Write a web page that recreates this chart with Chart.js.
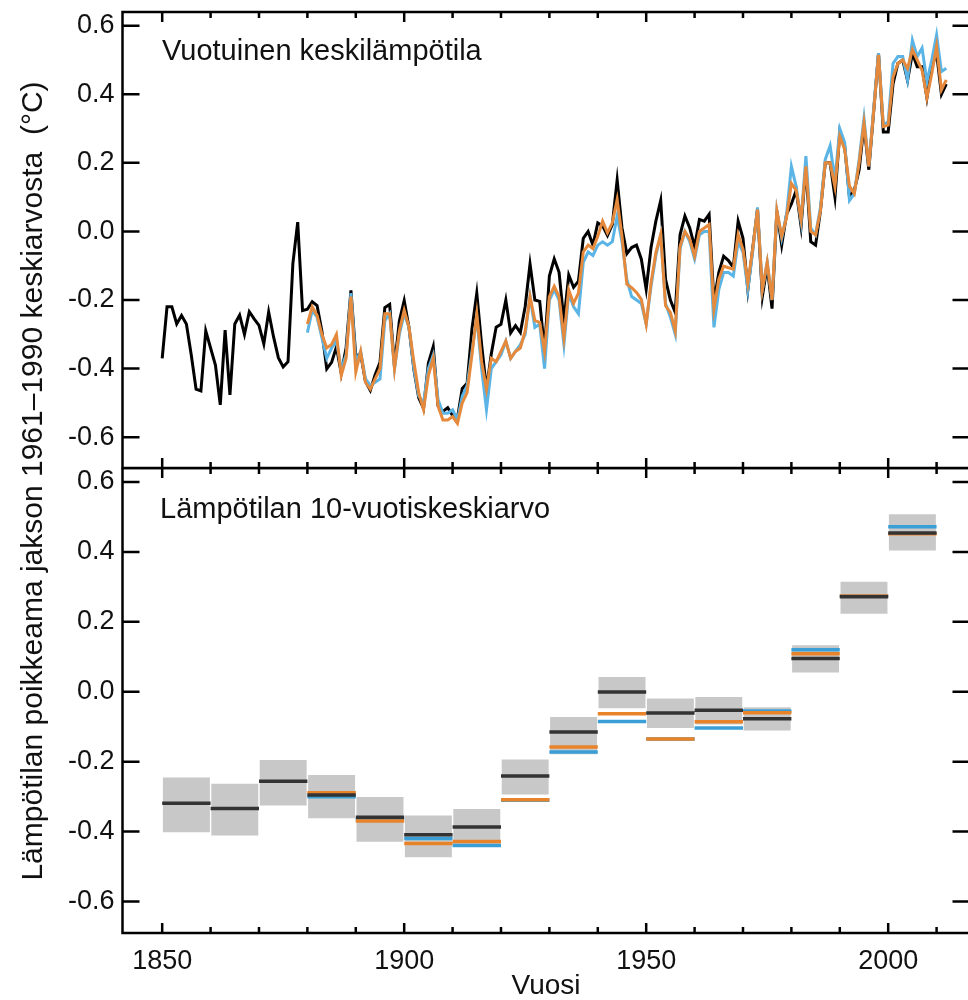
<!DOCTYPE html>
<html>
<head>
<meta charset="utf-8">
<script src="https://cdn.jsdelivr.net/npm/chart.js@4.4.1/dist/chart.umd.min.js"></script>
<style>
    html, body { margin: 0; padding: 0; background: #fff; overflow: hidden; }
    #wrap { position: relative; width: 968px; height: 1000px; overflow: hidden; }
    canvas { position: absolute; left: 0; }
    .lbl { position: absolute; font-family: "Liberation Sans", Arial, sans-serif; color: #111; white-space: nowrap; line-height: 1; }
</style>
</head>
<body>
<div id="wrap">
    <canvas id="top" width="975" height="470" style="top:0;width:975px;height:470px"></canvas>
    <canvas id="bot" width="975" height="532" style="top:468px;width:975px;height:532px"></canvas>
    <div class="lbl" style="left:162px;top:36px;font-size:29px">Vuotuinen keskilämpötila</div>
    <div class="lbl" style="left:160px;top:494px;font-size:29px">Lämpötilan 10-vuotiskeskiarvo</div>
    <div class="lbl" style="left:-468px;top:466px;width:1000px;text-align:center;font-size:30px;transform:rotate(-90deg)">Lämpötilan poikkeama jakson 1961–1990 keskiarvosta&nbsp;&nbsp;(°C)</div>
</div>
<script>
// annual anomalies, black 1850-2012, blue & orange 1880-2012
const black_start = 1850;
const black_values = [
    -0.37, -0.22, -0.22, -0.27, -0.245, -0.27, -0.36, -0.46, -0.465, -0.29,
    -0.34, -0.39, -0.506, -0.288, -0.477, -0.27, -0.244, -0.3, -0.234, -0.255,
    -0.274, -0.328, -0.235, -0.307, -0.368, -0.395, -0.38, -0.094, 0.027, -0.231,
    -0.227, -0.205, -0.216, -0.291, -0.401, -0.382, -0.337, -0.414, -0.339, -0.172,
    -0.364, -0.357, -0.438, -0.464, -0.418, -0.382, -0.222, -0.213, -0.394, -0.261,
    -0.202, -0.281, -0.403, -0.485, -0.516, -0.384, -0.336, -0.509, -0.525, -0.514,
    -0.537, -0.545, -0.458, -0.443, -0.285, -0.18, -0.33, -0.46, -0.357, -0.279,
    -0.271, -0.2, -0.296, -0.275, -0.295, -0.219, -0.095, -0.2, -0.204, -0.346,
    -0.13, -0.08, -0.119, -0.262, -0.127, -0.163, -0.145, -0.02, 0.0, -0.04,
    0.025, 0.016, -0.012, 0.02, 0.15, 0.01, -0.065, -0.047, -0.04, -0.081,
    -0.169, -0.047, 0.03, 0.09, -0.14, -0.2, -0.236, -0.01, 0.045, 0.01,
    -0.045, 0.035, 0.03, 0.05, -0.205, -0.12, -0.072, -0.085, -0.105, 0.03,
    -0.02, -0.17, -0.05, 0.065, -0.19, -0.1, -0.225, 0.06, -0.04, 0.05,
    0.08, 0.12, 0.015, 0.19, -0.03, -0.04, 0.06, 0.2, 0.2, 0.1,
    0.29, 0.25, 0.1, 0.12, 0.18, 0.31, 0.18, 0.35, 0.52, 0.29,
    0.29, 0.43, 0.49, 0.5, 0.44, 0.52, 0.48, 0.48, 0.39, 0.48,
    0.52, 0.40, 0.43,
];

const color_start = 1880;
const blue_values = [
    -0.295, -0.23, -0.25, -0.31, -0.37, -0.34, -0.32, -0.40, -0.36, -0.18,
    -0.38, -0.35, -0.43, -0.45, -0.44, -0.43, -0.26, -0.24, -0.40, -0.30,
    -0.24, -0.28, -0.40, -0.48, -0.50, -0.40, -0.36, -0.49, -0.53, -0.53,
    -0.52, -0.55, -0.48, -0.45, -0.35, -0.25, -0.40, -0.52, -0.40, -0.38,
    -0.36, -0.32, -0.37, -0.35, -0.33, -0.30, -0.19, -0.28, -0.27, -0.40,
    -0.20, -0.17, -0.20, -0.33, -0.18, -0.22, -0.24, -0.09, -0.06, -0.07,
    -0.04, -0.03, -0.04, -0.03, 0.045, -0.03, -0.14, -0.19, -0.20, -0.21,
    -0.27, -0.16, -0.07, -0.01, -0.21, -0.25, -0.30, -0.05, 0.0, -0.03,
    -0.08, -0.01, 0.0, 0.0, -0.28, -0.17, -0.12, -0.12, -0.13, -0.03,
    -0.06, -0.17, -0.06, 0.07, -0.17, -0.09, -0.2, 0.06, -0.02, 0.05,
    0.19, 0.13, 0.03, 0.22, 0.01, -0.01, 0.07, 0.21, 0.25, 0.15,
    0.30, 0.26, 0.09, 0.11, 0.21, 0.33, 0.19, 0.36, 0.52, 0.31,
    0.32, 0.49, 0.51, 0.51, 0.442, 0.558, 0.51, 0.535, 0.437, 0.50,
    0.573, 0.466, 0.476,
];
const orange_values = [
    -0.27, -0.22, -0.245, -0.30, -0.34, -0.33, -0.30, -0.42, -0.37, -0.19,
    -0.41, -0.35, -0.44, -0.46, -0.43, -0.40, -0.24, -0.24, -0.40, -0.29,
    -0.23, -0.28, -0.38, -0.47, -0.52, -0.42, -0.37, -0.51, -0.55, -0.55,
    -0.54, -0.56, -0.50, -0.47, -0.36, -0.24, -0.38, -0.46, -0.37, -0.38,
    -0.35, -0.32, -0.37, -0.35, -0.34, -0.29, -0.19, -0.26, -0.265, -0.35,
    -0.19, -0.16, -0.19, -0.31, -0.17, -0.21, -0.18, -0.06, -0.04, -0.05,
    -0.014, 0.03, -0.004, 0.025, 0.093, -0.014, -0.154, -0.164, -0.178, -0.198,
    -0.27, -0.15, -0.062, -0.009, -0.217, -0.236, -0.29, -0.043, 0.0, -0.023,
    -0.072, 0.0, 0.01, 0.02, -0.226, -0.14, -0.101, -0.106, -0.11, -0.009,
    -0.052, -0.15, -0.052, 0.064, -0.17, -0.09, -0.2, 0.061, -0.014, 0.04,
    0.14, 0.12, 0.035, 0.19, 0.0, -0.01, 0.06, 0.2, 0.2, 0.13,
    0.277, 0.24, 0.132, 0.11, 0.2, 0.316, 0.19, 0.35, 0.515, 0.306,
    0.31, 0.45, 0.49, 0.5, 0.475, 0.53, 0.5, 0.47, 0.39, 0.46,
    0.54, 0.413, 0.442,
];

// decadal means
const decades = [1850, 1860, 1870, 1880, 1890, 1900, 1910, 1920, 1930, 1940, 1950, 1960, 1970, 1980, 1990, 2000];
const dec_black = [-0.319, -0.334, -0.256, -0.295, -0.359, -0.409, -0.387, -0.241, -0.115, -0.001, -0.061, -0.053, -0.077, 0.095, 0.272, 0.454];
const dec_low = [-0.402, -0.411, -0.325, -0.362, -0.429, -0.473, -0.442, -0.294, -0.179, -0.047, -0.104, -0.094, -0.111, 0.055, 0.223, 0.404];
const dec_high = [-0.245, -0.263, -0.195, -0.238, -0.301, -0.354, -0.335, -0.194, -0.072, 0.042, -0.019, -0.015, -0.044, 0.133, 0.315, 0.508];
const dec_color_start = 1880;
const dec_blue = [-0.30, -0.365, -0.42, -0.44, -0.31, -0.172, -0.085, -0.135, -0.104, -0.055, 0.12, 0.274, 0.472];
const dec_orange = [-0.289, -0.37, -0.434, -0.428, -0.309, -0.158, -0.063, -0.135, -0.086, -0.06, 0.109, 0.274, 0.452];

const y_ticks = [-0.6, -0.4, -0.2, 0.0, 0.2, 0.4, 0.6];
const x_ticks = [1850, 1900, 1950, 2000];

const BLACK = "#000000";
const BLUE = "#5ab4e5";
const ORANGE = "#e58a3c";
const DEC_BLUE = "#3a9fd6";
const DEC_ORANGE = "#e8832a";
const DEC_BLACK = "#333333";
const BOX = "#c8c8c8";

const tick_font = { family: '"Liberation Sans Narrow", "Arial Narrow", "Liberation Sans", sans-serif', size: 27 };

function toPoints(start, values) {
    return values.map((v, i) => ({ x: start + i, y: v }));
}

function toSegments(start, values) {
    let pts = [];
    values.forEach((v, i) => {
        const d = start + i * 10;
        pts.push({ x: d, y: v }, { x: d + 10, y: v }, { x: d + 10, y: null });
    });
    return pts;
}

const framePlugin = {
    id: "frame",
    afterDatasetsDraw(chart) {
        const { ctx, chartArea: a, scales } = chart;
        ctx.save();
        ctx.strokeStyle = "#000";
        ctx.lineWidth = 2.5;
        ctx.strokeRect(a.left, a.top, a.right - a.left, a.bottom - a.top);
        ctx.beginPath();
        for (let v of y_ticks) {
            const py = scales.y.getPixelForValue(v);
            ctx.moveTo(a.left, py);
            ctx.lineTo(a.left + 17, py);
            ctx.moveTo(a.right, py);
            ctx.lineTo(a.right - 17, py);
        }
        for (let yr = 1850; yr <= 2010; yr += 10) {
            const px = scales.x.getPixelForValue(yr);
            const len = yr % 50 === 0 ? 10 : 6;
            ctx.moveTo(px, a.top);
            ctx.lineTo(px, a.top + len);
            ctx.moveTo(px, a.bottom);
            ctx.lineTo(px, a.bottom - len);
        }
        ctx.stroke();
        ctx.restore();
    },
};

function yScale() {
    return {
        type: "linear",
        min: -0.69,
        max: 0.64,
        grid: { display: false, drawTicks: false },
        border: { display: false },
        afterBuildTicks: (scale) => {
            scale.ticks = y_ticks.map((v) => ({ value: v }));
        },
        afterFit: (scale) => {
            scale.width = 122.5;
            scale.paddingTop = 0;
            scale.paddingBottom = 0;
        },
        ticks: {
            color: "#111",
            padding: 8,
            font: tick_font,
            callback: (v) => v.toFixed(1),
        },
    };
}

function xScale(show) {
    return {
        type: "linear",
        min: 1841.8,
        max: 2016.8,
        offset: false,
        display: show,
        grid: { display: false, drawTicks: false, offset: false },
        border: { display: false },
        afterBuildTicks: (scale) => {
            scale.ticks = x_ticks.map((v) => ({ value: v }));
        },
        afterFit: (scale) => {
            scale.height = show ? 67 : 0;
            scale.paddingLeft = 0;
            scale.paddingRight = 0;
        },
        ticks: {
            color: "#111",
            padding: 12,
            maxRotation: 0,
            font: tick_font,
            callback: (v) => String(v),
        },
        title: {
            display: show,
            text: "Vuosi",
            color: "#111",
            padding: 0,
            font: { family: '"Liberation Sans", Arial, sans-serif', size: 28, lineHeight: 1.0 },
        },
    };
}

function lineSet(data, color, width, order) {
    return {
        type: "line",
        data: data,
        borderColor: color,
        borderWidth: width,
        pointRadius: 0,
        tension: 0,
        spanGaps: false,
        borderCapStyle: "butt",
        order: order,
    };
}

const common = {
    responsive: false,
    animation: false,
    events: [],
    plugins: { legend: { display: false }, tooltip: { enabled: false } },
};

new Chart(document.getElementById("top"), {
    type: "line",
    data: {
        datasets: [
            lineSet(toPoints(color_start, orange_values), ORANGE, 3, 0),
            lineSet(toPoints(color_start, blue_values), BLUE, 3, 1),
            lineSet(toPoints(black_start, black_values), BLACK, 3, 2),
        ],
    },
    options: {
        ...common,
        layout: { padding: { top: 12, bottom: 2, left: 0, right: 5.5 } },
        scales: { x: xScale(false), y: yScale() },
    },
    plugins: [framePlugin],
});

new Chart(document.getElementById("bot"), {
    type: "bar",
    data: {
        datasets: [
            {
                type: "bar",
                data: decades.map((d, i) => ({ x: d + 5, y: [dec_low[i], dec_high[i]] })),
                backgroundColor: BOX,
                borderWidth: 0,
                barPercentage: 0.97,
                categoryPercentage: 1,
                order: 10,
            },
            lineSet(toSegments(dec_color_start, dec_blue), DEC_BLUE, 3.5, 3),
            lineSet(toSegments(dec_color_start, dec_orange), DEC_ORANGE, 3.5, 2),
            lineSet(toSegments(decades[0], dec_black), DEC_BLACK, 3.5, 1),
        ],
    },
    options: {
        ...common,
        layout: { padding: { top: 0, bottom: 0, left: 0, right: 5.5 } },
        scales: { x: xScale(true), y: yScale() },
    },
    plugins: [framePlugin],
});
</script>
</body>
</html>
